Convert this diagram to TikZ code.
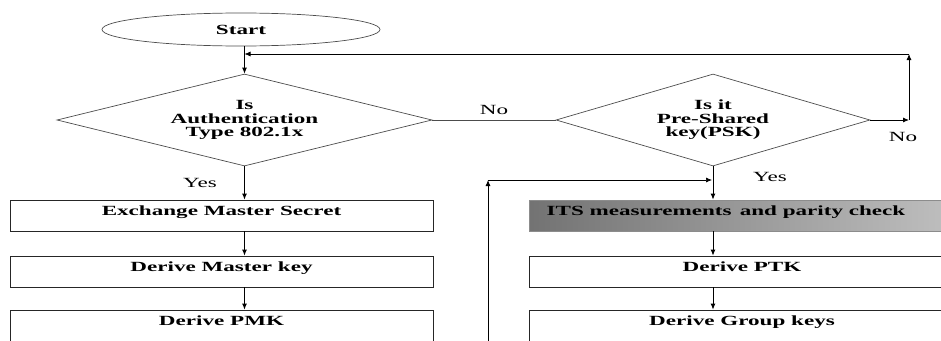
\documentclass[tikz,border=0pt]{standalone}
\usepackage{fontspec}
\setmainfont{Liberation Serif}[FakeStretch=1.65]
\usetikzlibrary{shapes.geometric,arrows.meta}
\begin{document}
\begin{tikzpicture}[x=1pt,y=-1pt,
  every node/.style={font=\fontsize{14}{14}\selectfont},
  decision/.style={draw=black!70, line width=0.7pt, diamond, inner sep=0pt, align=center, font=\fontsize{14}{13.5}\selectfont\bfseries},
  terminal/.style={draw=black!70, line width=0.7pt, ellipse, inner sep=0pt, font=\fontsize{14}{14}\selectfont\bfseries},
  stepbox/.style={draw=black!85, line width=0.8pt, rectangle, inner xsep=0pt, inner ysep=0pt, text height=15pt, text depth=16pt, minimum height=31pt, font=\fontsize{14}{14}\selectfont\bfseries},
  lbl/.style={font=\fontsize{14}{14}\selectfont},
  arr/.style={-{Latex[length=6pt,width=5pt]}, line width=0.9pt},
  ln/.style={line width=0.7pt, draw=black!70}
]
\useasboundingbox (0,0) rectangle (941,340);

\node[terminal, minimum width=278pt, minimum height=33pt] (start) at (241,29.5) {Start};

\node[decision, shape aspect=4.076, minimum width=375pt, minimum height=92pt] (d1) at (244.5,120) {Is\\Authentication\\Type 802.1x};
\node[decision, shape aspect=3.413, minimum width=314pt, minimum height=92pt] (d2) at (713,120) {Is it\\Pre-Shared\\key(PSK)};

\node[stepbox, minimum width=423pt] (b1) at (221.5,215.5) {Exchange Master Secret};
\node[stepbox, minimum width=423pt] (b2) at (221.5,271.5) {Derive Master key};
\node[stepbox, minimum width=423pt, text depth=25pt, minimum height=40pt] (b3) at (221.5,330) {Derive PMK};

\node[stepbox, minimum width=426pt, draw=black!45, left color=black!55, right color=black!25] (its) at (742,215.5) {ITS measurements\, and parity check\hspace*{32pt}};
\node[stepbox, minimum width=426pt] (ptk) at (742,271.5) {Derive PTK};
\node[stepbox, minimum width=426pt, text depth=25pt, minimum height=40pt] (grp) at (742,330) {Derive Group keys};

\coordinate (r1) at (909,120);
\coordinate (r2) at (909,54);
\coordinate (j1) at (244.5,54);
\coordinate (l1) at (488,345);
\coordinate (l2) at (488,180);
\coordinate (l3) at (712,180);

\draw[arr] (start.south -| d1.north) -- (d1.north);
\draw[ln] (d1.east) -- (d2.west) node[lbl, midway, above=2pt] {No};
\draw[arr] (d2.east) -- (r1);
\draw[arr] (r1) -- (r2);
\draw[arr, line width=0.7pt] (r2) -- (j1);
\node[lbl] (no2) at (903,137) {No};

\draw[arr] (d1.south) -- (b1.north -| d1.south);
\node[lbl] (yes1) at (200,183) {Yes};
\draw[arr] (b1.south -| d1.south) -- (b2.north -| d1.south);
\draw[arr] (b2.south -| d1.south) -- (b3.north -| d1.south);

\draw[arr] (d2.south) -- (its.north -| d2.south);
\node[lbl] (yes2) at (770,177) {Yes};
\draw[arr] (its.south -| d2.south) -- (ptk.north -| d2.south);
\draw[arr] (ptk.south -| d2.south) -- (grp.north -| d2.south);

\draw[arr] (l1) -- (l2);
\draw[arr, line width=0.7pt] (l2) -- (l3);
\end{tikzpicture}
\end{document}
